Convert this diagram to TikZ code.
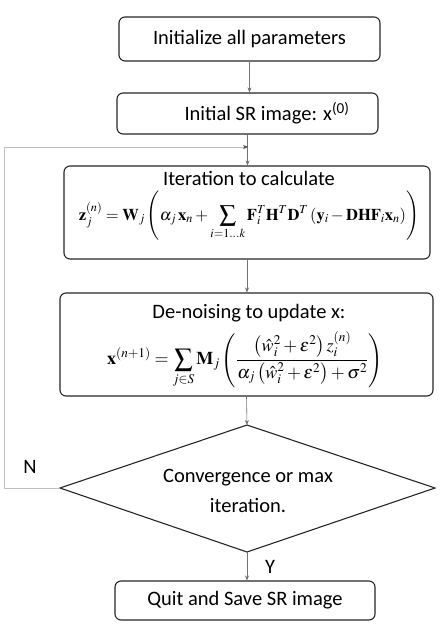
\documentclass[tikz,border=0pt]{standalone}
\usepackage{amsmath}
\usepackage{mathptmx}
\usepackage[no-math]{fontspec}
\setmainfont{Carlito}
\usetikzlibrary{shapes.geometric,arrows.meta}
\begin{document}
\begin{tikzpicture}[x=1bp,y=-1bp,
  box/.style={draw=black!85, line width=1.1bp, rounded corners=6bp, inner sep=0pt, align=center,
    font=\fontsize{20.5bp}{24bp}\selectfont},
  decline/.style={draw=black!85, line width=1.1bp, line join=miter},
  dectext/.style={inner sep=0pt, align=center, font=\fontsize{20.5bp}{30bp}\selectfont},
  lbl/.style={inner sep=0pt, font=\fontsize{20.5bp}{24bp}\selectfont},
  eqn/.style={inner sep=0pt},
  conn/.style={draw=black!55, line width=0.6bp, -{Stealth[length=5bp,width=4bp]}},
  loopline/.style={draw=black!25, line width=0.8bp, -{Stealth[length=5bp,width=4bp,color=black!70]}},
]
\useasboundingbox (0,0) rectangle (442,630);
\fill[white] (0,0) rectangle (442,630);

\node[box, minimum width=261bp, minimum height=44bp] (b1) at (249.5,39) {Initialize all parameters};
\node[box, minimum width=261bp, minimum height=41bp] (b2) at (247.5,113.5) {};
\node[lbl] (t2) at (267,113) {Initial SR image: x\textsuperscript{(0)}};

\node[box, minimum width=366bp, minimum height=93bp] (b3) at (247,212.5) {};
\node[lbl] (t3) at (249,178) {Iteration to calculate};
\node[eqn, font=\fontsize{16.5bp}{19bp}\selectfont] (e3) at (249,216) {$\displaystyle \mathbf{z}_j^{(n)} = \mathbf{W}_j\left(\alpha_j\,\mathbf{x}_n + \sum_{i=1\ldots k}\mathbf{F}_i^T\mathbf{H}^T\mathbf{D}^T\left(\mathbf{y}_i - \mathbf{DHF}_i\mathbf{x}_n\right)\right)$};

\node[box, minimum width=373bp, minimum height=103bp] (b4) at (246.5,344.5) {};
\node[lbl] (t4) at (249,313) {De-noising to update x:};
\node[eqn, font=\fontsize{18bp}{22bp}\selectfont] (e4) at (245,360) {$\displaystyle \mathbf{x}^{(n+1)} = \sum_{j\in S}\mathbf{M}_j\left(\frac{\left(\hat{w}_i^2+\varepsilon^2\right)z_i^{(n)}}{\alpha_j\left(\hat{w}_i^2+\varepsilon^2\right)+\sigma^2}\right)$};

\coordinate (dN) at (247,425);
\coordinate (dW) at (60,488);
\coordinate (dE) at (435,488);
\coordinate (dS) at (247,552);
\draw[decline] (dN) -- (dE) -- (dS) -- (dW) -- cycle;
\node[dectext] (d) at (248,491) {Convergence or max\\iteration.};

\node[box, minimum width=260bp, minimum height=39bp] (b5) at (245,600.5) {Quit and Save SR image};

\coordinate (lp) at (248,147);
\coordinate (lc1) at (4,488);
\coordinate (lc2) at (4,147);

\draw[conn] (b1.south) -- (b1.south |- b2.north);
\draw[conn] (b2.south) -- (b2.south |- b3.north);
\draw[loopline] (dW) -- (lc1) -- (lc2) -- (lp);
\draw[conn] (b3.south) -- (b3.south |- b4.north);
\draw[conn] (b4.south) -- (dN);
\draw[conn] (dS) -- (dS |- b5.north);

\node[lbl] (nlab) at (30,467) {N};
\node[lbl] (ylab) at (270,567) {Y};
\end{tikzpicture}
\end{document}
